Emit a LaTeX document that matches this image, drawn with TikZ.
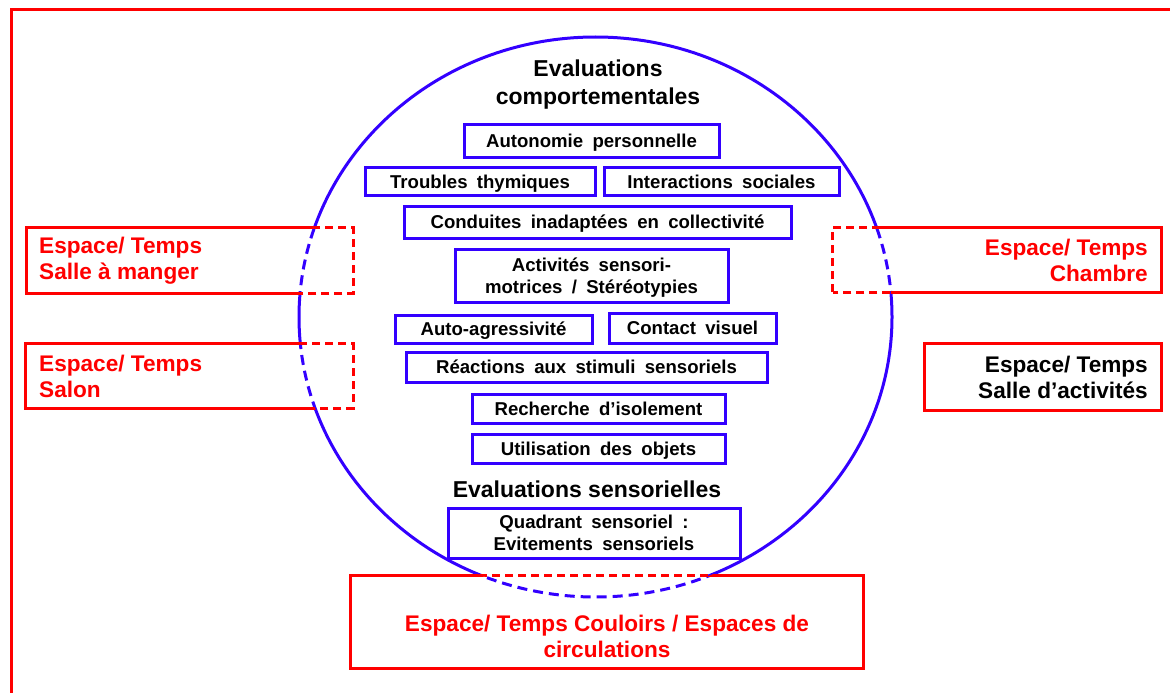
\documentclass[tikz,border=0pt]{standalone}
\usepackage{fontspec}
\setmainfont{Liberation Sans}
\newfontfamily\wideface{Liberation Sans}[WordSpace=1.8]
\definecolor{evblue}{RGB}{51,0,255}
\definecolor{evred}{RGB}{255,0,0}
\tikzset{
  evbox/.style={draw=evblue, line width=3pt, inner sep=0pt, align=center, text depth=0pt,
    font=\wideface\bfseries\fontsize{18.6}{21.5}\selectfont},
  evone/.style={evbox, text height=13.3pt, text depth=0pt},
  rbox/.style={draw=none, inner sep=0pt},
  rtext/.style={text=evred, inner sep=0pt, font=\bfseries\fontsize{22.6}{26}\selectfont},
  ttl/.style={inner sep=0pt, align=center, font=\bfseries\fontsize{23}{28}\selectfont},
  redline/.style={draw=evred, line width=3pt},
  reddash/.style={draw=evred, line width=3pt, dash pattern=on 8pt off 5pt},
  blueline/.style={draw=evblue, line width=3pt},
  bluedash/.style={draw=evblue, line width=3pt, dash pattern=on 10pt off 6pt},
}
\begin{document}
\begin{tikzpicture}[x=1pt,y=-1pt]
\useasboundingbox[fill=white] (0,0) rectangle (1170,693);
% outer frame
\coordinate (fbl) at (11,693);
\coordinate (ftl) at (11,9.5);
\coordinate (ftr) at (1170,9.5);
\draw[redline] (fbl) -- (ftl) -- (ftr);
% circle centre
\coordinate (c) at (595.5,317);
% red boxes (shapes)
\node[rbox, minimum width=326pt, minimum height=65pt] (sm) at (190,260.5) {};
\node[rbox, minimum width=327pt, minimum height=64pt] (sl) at (189.5,376) {};
\node[rbox, minimum width=328pt, minimum height=64pt] (ch) at (997,260) {};
\node[rbox, minimum width=236pt, minimum height=66pt] (sa) at (1043,377) {};
\node[rbox, minimum width=512pt, minimum height=92pt] (co) at (607,622) {};
% ellipse solid outside red boxes
\begin{scope}[even odd rule]
\clip (-10,-10) rectangle (1180,703)
  (sm.south west) rectangle (sm.north east)
  (sl.south west) rectangle (sl.north east)
  (ch.south west) rectangle (ch.north east)
  (co.south west) rectangle (co.north east);
\draw[blueline] (c) ellipse [x radius=296.5pt, y radius=280pt];
\end{scope}
\begin{scope}
\clip (sm.south west) rectangle (sm.north east)
  (sl.south west) rectangle (sl.north east)
  (ch.south west) rectangle (ch.north east)
  (co.south west) rectangle (co.north east);
\draw[bluedash] (c) ellipse [x radius=296.5pt, y radius=280pt];
\end{scope}
% red boxes: solid outside the ellipse, dashed inside
\begin{scope}[even odd rule]
\clip (-10,-10) rectangle (1180,703) (c) ellipse [x radius=296.5pt, y radius=280pt];
\draw[redline] (sm.south west) rectangle (sm.north east)
  (sl.south west) rectangle (sl.north east)
  (ch.south west) rectangle (ch.north east)
  (co.south west) rectangle (co.north east);
\end{scope}
\begin{scope}
\clip (c) ellipse [x radius=296.5pt, y radius=280pt];
\draw[reddash] (sm.south west) rectangle (sm.north east)
  (sl.south west) rectangle (sl.north east)
  (ch.south west) rectangle (ch.north east)
  (co.south west) rectangle (co.north east);
\end{scope}
\draw[redline] (sa.south west) rectangle (sa.north east);
% red box texts
\node[rtext, anchor=west, align=left] (smt) at (39,261) {Espace/ Temps\\Salle à manger};
\node[rtext, anchor=west, align=left] (slt) at (39,376) {Espace/ Temps\\Salon};
\node[rtext, anchor=east, align=right] (cht) at (1148,260) {Espace/ Temps\\Chambre};
\node[rtext, anchor=east, align=right, text=black] (sat) at (1148,377) {Espace/ Temps\\Salle d’activités};
\node[rtext, align=center] (cot) at (607,636) {Espace/ Temps Couloirs / Espaces de\\circulations};
% titles
\node[ttl] (t1) at (598,85) {Evaluations\\comportementales};
\node[ttl] (t2) at (587,489) {Evaluations sensorielles};
% blue boxes
\node[evone, minimum width=255pt, minimum height=33pt] (auto) at (591.5,140.5) {Autonomie personnelle};
\node[evone, minimum width=230pt, minimum height=28pt] (trou) at (480,181.5) {Troubles thymiques};
\node[evone, minimum width=235pt, minimum height=28pt] (inter) at (721.5,181.5) {Interactions sociales};
\node[evone, minimum width=387pt, minimum height=32pt] (cond) at (597.5,222) {Conduites inadaptées en collectivité};
\node[evbox, minimum width=273pt, minimum height=53pt] (acti) at (591.5,275.5) {Activités sensori-\\motrices / Stéréotypies};
\node[evone, minimum width=197pt, minimum height=28pt] (autoag) at (493.5,329) {Auto-agressivité};
\node[evone, minimum width=167pt, minimum height=30pt] (cont) at (692.5,328) {Contact visuel};
\node[evone, minimum width=361pt, minimum height=30pt] (reac) at (586.5,367) {Réactions aux stimuli sensoriels};
\node[evone, minimum width=253pt, minimum height=29pt] (rech) at (598.5,408.5) {Recherche d’isolement};
\node[evone, minimum width=253pt, minimum height=29pt] (util) at (598.5,448.5) {Utilisation des objets};
\node[evbox, minimum width=292pt, minimum height=50pt] (quad) at (594,533) {Quadrant sensoriel :\\Evitements sensoriels};
\end{tikzpicture}
\end{document}
